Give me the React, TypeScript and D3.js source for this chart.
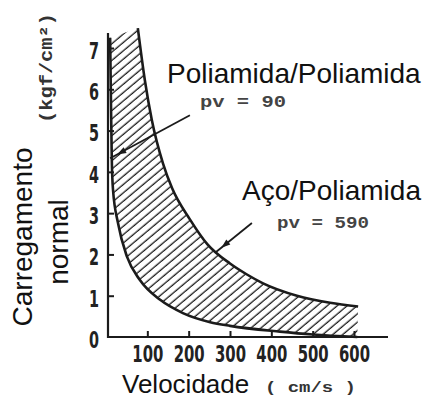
import { useEffect, useRef } from "react";
import * as d3 from "d3";

// curve: pv = 590 (Aço/Poliamida), outer edge
const outerV = [77, 94, 111, 138, 160, 203, 245, 300, 340, 380, 462, 542, 610];
const outerP = [7.48, 6.22, 5.25, 4.2, 3.6, 2.85, 2.25, 1.78, 1.52, 1.3, 1.0, 0.83, 0.74];

// pv = 90 (Poliamida/Poliamida), inner edge
const innerV = [10, 12, 14, 17, 29, 51, 82, 131, 186, 252, 300, 421, 500, 608];
const innerP = [7.25, 5.7, 4.3, 3.56, 2.76, 1.94, 1.38, 0.9, 0.58, 0.36, 0.27, 0.13, 0.06, 0.0];

const xTicks = [100, 200, 300, 400, 500, 600];
const yTicks = [0, 1, 2, 3, 4, 5, 6, 7];

// label arrows [tail, tip] in data units
const arrow90 = [[203, 5.37], [10, 4.33]];
const arrow590 = [[353, 2.76], [264, 2.04]];

const W = 430;
const H = 400;
const INK = "#1b1b1b";
const DIGITS = "'DejaVu Sans Condensed', 'DejaVu Sans', sans-serif";
const SANS = "Arial, 'Liberation Sans', sans-serif";
const TYPE = "'Liberation Mono', 'DejaVu Sans Mono', monospace";

const x = d3.scaleLinear().domain([0, 600]).range([106, 354]);
const y = d3.scaleLinear().domain([0, 7]).range([337, 48]);

type Pt = [number, number];
const outer: Pt[] = outerV.map((v, i) => [v, outerP[i]]);
const inner: Pt[] = innerV.map((v, i) => [v, innerP[i]]);

const line = d3
  .line<Pt>()
  .x((d) => x(d[0]))
  .y((d) => y(d[1]))
  .curve(d3.curveMonotoneX);

const Arrow = ({ pts }: { pts: number[][] }) => {
  const [x1, y1] = [x(pts[0][0]), y(pts[0][1])];
  const [x2, y2] = [x(pts[1][0]), y(pts[1][1])];
  const a = Math.atan2(y2 - y1, x2 - x1);
  // filled head sits a bit back from the tip, like the scan
  const hx = x2 - Math.cos(a) * 8;
  const hy = y2 - Math.sin(a) * 8;
  const L = 9;
  const w = 3.2;
  const bx = hx - Math.cos(a) * L;
  const by = hy - Math.sin(a) * L;
  const head = `M${hx},${hy}L${bx + Math.sin(a) * w},${by - Math.cos(a) * w}L${bx - Math.sin(a) * w},${by + Math.cos(a) * w}Z`;
  return (
    <g>
      <line x1={x1} y1={y1} x2={x2} y2={y2} stroke={INK} strokeWidth={1.8} />
      <path d={head} fill={INK} />
    </g>
  );
};

const App = () => {
  const gX = useRef<SVGGElement | null>(null);
  const gY = useRef<SVGGElement | null>(null);

  useEffect(() => {
    if (gX.current) {
      const g = d3.select(gX.current);
      g.call(
        d3
          .axisBottom(x)
          .tickValues(xTicks)
          .tickSizeInner(-6)
          .tickSizeOuter(0)
          .tickPadding(9)
          .tickFormat((d) => String(d)),
      );
      g.select(".domain").remove();
      g.selectAll("line").attr("stroke", INK).attr("stroke-width", 2);
      g.selectAll("text")
        .attr("fill", "#222")
        .attr("textLength", 31)
        .attr("lengthAdjust", "spacingAndGlyphs")
        .style("font-family", DIGITS)
        .style("font-weight", "bold")
        .style("font-size", "23px");
    }
    if (gY.current) {
      const g = d3.select(gY.current);
      g.call(
        d3
          .axisLeft(y)
          .tickValues(yTicks)
          .tickSizeInner(-6)
          .tickSizeOuter(0)
          .tickPadding(9)
          .tickFormat((d) => String(d)),
      );
      g.select(".domain").remove();
      g.selectAll("line").attr("stroke", INK).attr("stroke-width", 2);
      g.selectAll(".tick")
        .filter((d) => d === 0)
        .select("line")
        .remove();
      g.selectAll("text")
        .attr("fill", "#222")
        .attr("dy", "0.45em")
        .attr("textLength", 10)
        .attr("lengthAdjust", "spacingAndGlyphs")
        .style("font-family", DIGITS)
        .style("font-weight", "bold")
        .style("font-size", "23px");
    }
  }, []);

  const outerD = line(outer) || "";
  const innerRevD = line([...inner].reverse()) || "";
  const bandD = outerD + "L" + innerRevD.slice(1) + "Z";

  return (
    <svg
      width={W}
      height={H}
      viewBox={`0 0 ${W} ${H}`}
      style={{ position: "absolute", left: 0, top: 0, background: "#fff" }}
    >
      <defs>
        <pattern
          id="hatch"
          patternUnits="userSpaceOnUse"
          width={8}
          height={6.4}
          patternTransform="rotate(-40)"
        >
          <line x1={0} y1={3} x2={8} y2={3} stroke={INK} strokeWidth={1.3} />
        </pattern>
      </defs>

      <path d={bandD} fill="url(#hatch)" stroke="none" />
      <path d={outerD} fill="none" stroke={INK} strokeWidth={2.6} />
      <path d={line(inner) || ""} fill="none" stroke={INK} strokeWidth={2.6} />

      {/* axes */}
      <line x1={108} y1={33} x2={108} y2={338} stroke={INK} strokeWidth={2.2} />
      <line x1={107} y1={337} x2={388} y2={337} stroke={INK} strokeWidth={2.2} />
      <g ref={gX} transform={`translate(0,${y(0)})`} />
      <g ref={gY} transform={`translate(${108},0)`} />

      <Arrow pts={arrow90} />
      <Arrow pts={arrow590} />

      {/* labels */}
      <text x={167} y={83} fontFamily={SANS} fontSize={28} fill="#111">
        Poliamida/Poliamida
      </text>
      <text
        x={200}
        y={107}
        fontFamily={TYPE}
        fontWeight="bold"
        fontSize={16}
        fill="#444"
        textLength={86}
        lengthAdjust="spacingAndGlyphs"
      >
        pv = 90
      </text>
      <text x={242} y={200} fontFamily={SANS} fontSize={28} fill="#111">
        Aço/Poliamida
      </text>
      <text
        x={277}
        y={228}
        fontFamily={TYPE}
        fontWeight="bold"
        fontSize={16}
        fill="#444"
        textLength={92}
        lengthAdjust="spacingAndGlyphs"
      >
        pv = 590
      </text>

      <text
        transform="translate(32,237) rotate(-90)"
        textAnchor="middle"
        fontFamily={SANS}
        fontSize={28}
        fill="#111"
      >
        Carregamento
      </text>
      <text
        transform="translate(68,242) rotate(-90)"
        textAnchor="middle"
        fontFamily={SANS}
        fontSize={28}
        fill="#111"
      >
        normal
      </text>
      <text
        transform="translate(52,68) rotate(-90)"
        textAnchor="middle"
        fontFamily={TYPE}
        fontWeight="bold"
        fontSize={18}
        fill="#333"
        textLength={110}
        lengthAdjust="spacingAndGlyphs"
      >
        (kgf/cm²)
      </text>

      <text x={122} y={393} fontFamily={SANS} fontSize={26} fill="#111">
        Velocidade
      </text>
      <text
        x={265}
        y={392}
        fontFamily={TYPE}
        fontWeight="bold"
        fontSize={15}
        fill="#333"
        textLength={91}
        lengthAdjust="spacingAndGlyphs"
        xmlSpace="preserve"
      >
        ( cm/s )
      </text>
    </svg>
  );
};

export default App;
